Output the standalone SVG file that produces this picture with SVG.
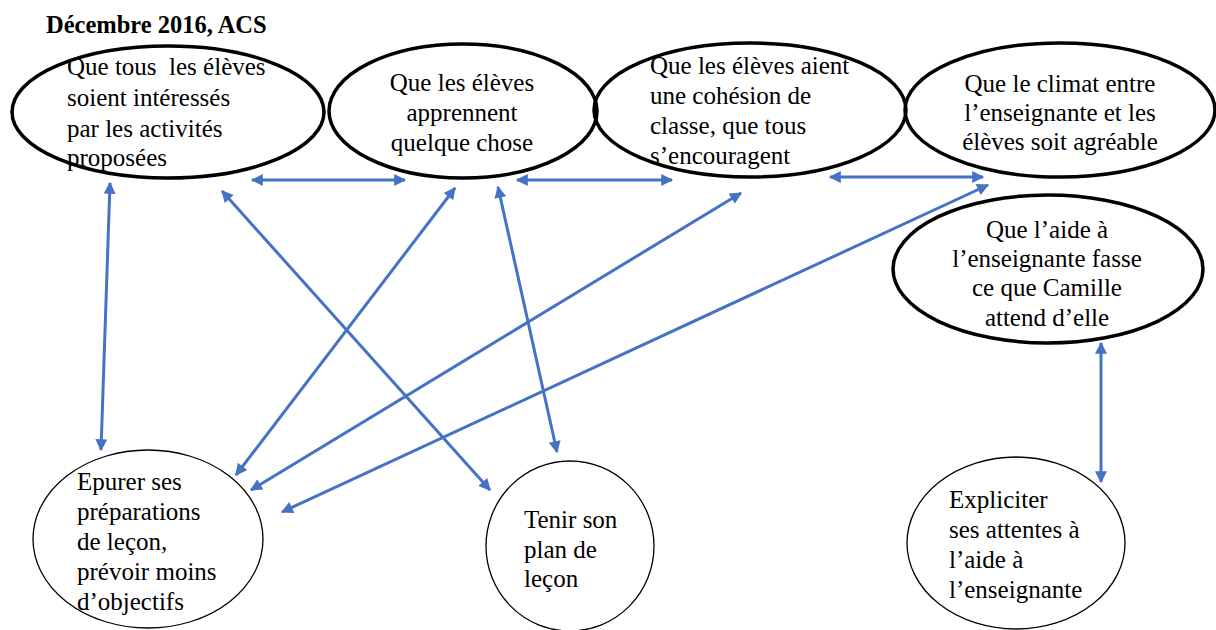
<svg xmlns="http://www.w3.org/2000/svg" width="1216" height="630" viewBox="0 0 1216 630">
<style>
.t{font-family:"Liberation Serif","Times New Roman",serif;font-size:25px;fill:#000}
.c{text-anchor:middle}
.thick{fill:none;stroke:#000;stroke-width:3.5}
.thin{fill:none;stroke:#000;stroke-width:1.3}
.e{fill:none;stroke:#4472C4;stroke-width:3;marker-start:url(#ah);marker-end:url(#ah)}
</style>
<defs>
<marker id="ah" viewBox="0 0 10 10" refX="9" refY="5" markerWidth="14" markerHeight="12" markerUnits="userSpaceOnUse" orient="auto-start-reverse">
<path d="M0,0 L10,5 L0,10 z" fill="#4472C4"/>
</marker>
</defs>
<rect width="1216" height="630" fill="#fff"/>
<text class="t" x="46" y="33" font-weight="bold" style="font-size:24.5px">Décembre 2016, ACS</text>
<g id="n1">
<ellipse class="thick" cx="168" cy="112" rx="156" ry="66"/>
<text class="t" x="67" y="75" xml:space="preserve" style="white-space:pre">Que tous  les élèves</text>
<text class="t" x="67" y="106">soient intéressés</text>
<text class="t" x="67" y="137">par les activités</text>
<text class="t" x="67" y="166">proposées</text>
</g>
<g id="n2">
<ellipse class="thick" cx="463" cy="111" rx="134" ry="67"/>
<text class="t c" x="462" y="91">Que les élèves</text>
<text class="t c" x="462" y="121">apprennent</text>
<text class="t c" x="462" y="151">quelque chose</text>
</g>
<g id="n3">
<ellipse class="thick" cx="750" cy="110" rx="156" ry="67"/>
<text class="t" x="650" y="74">Que les élèves aient</text>
<text class="t" x="650" y="104">une cohésion de</text>
<text class="t" x="650" y="134">classe, que tous</text>
<text class="t" x="650" y="164">s’encouragent</text>
</g>
<g id="n4">
<ellipse class="thick" cx="1060" cy="110" rx="155" ry="67"/>
<text class="t c" x="1060" y="92">Que le climat entre</text>
<text class="t c" x="1060" y="121">l’enseignante et les</text>
<text class="t c" x="1060" y="150">élèves soit agréable</text>
</g>
<g id="n5">
<ellipse class="thick" cx="1048" cy="269" rx="155" ry="74"/>
<text class="t c" x="1047" y="238">Que l’aide à</text>
<text class="t c" x="1047" y="267">l’enseignante fasse</text>
<text class="t c" x="1047" y="296">ce que Camille</text>
<text class="t c" x="1047" y="326">attend d’elle</text>
</g>
<g id="n6">
<ellipse class="thin" cx="148" cy="539" rx="115" ry="89"/>
<text class="t" x="77" y="490">Epurer ses</text>
<text class="t" x="77" y="520">préparations</text>
<text class="t" x="77" y="550">de leçon,</text>
<text class="t" x="77" y="580">prévoir moins</text>
<text class="t" x="77" y="610">d’objectifs</text>
</g>
<g id="n7">
<ellipse class="thin" cx="570" cy="546" rx="84" ry="85"/>
<text class="t" x="524" y="528">Tenir son</text>
<text class="t" x="524" y="558">plan de</text>
<text class="t" x="524" y="587">leçon</text>
</g>
<g id="n8">
<ellipse class="thin" cx="1016" cy="543" rx="109" ry="86"/>
<text class="t" x="949" y="508">Expliciter</text>
<text class="t" x="949" y="538">ses attentes à</text>
<text class="t" x="949" y="568">l’aide à</text>
<text class="t" x="949" y="598">l’enseignante</text>
</g>
<g id="connectors">
<line class="e" x1="252" y1="180" x2="405" y2="180"/>
<line class="e" x1="517" y1="180" x2="672" y2="180"/>
<line class="e" x1="830" y1="177" x2="983" y2="177"/>
<line class="e" x1="110" y1="183" x2="101" y2="450"/>
<line class="e" x1="222" y1="191" x2="490" y2="490"/>
<line class="e" x1="455" y1="188" x2="236" y2="475"/>
<line class="e" x1="498" y1="187" x2="557" y2="452"/>
<line class="e" x1="741" y1="193" x2="251" y2="490"/>
<line class="e" x1="988" y1="185" x2="282" y2="512"/>
<line class="e" x1="1101" y1="343" x2="1101" y2="482"/>
</g>
</svg>
